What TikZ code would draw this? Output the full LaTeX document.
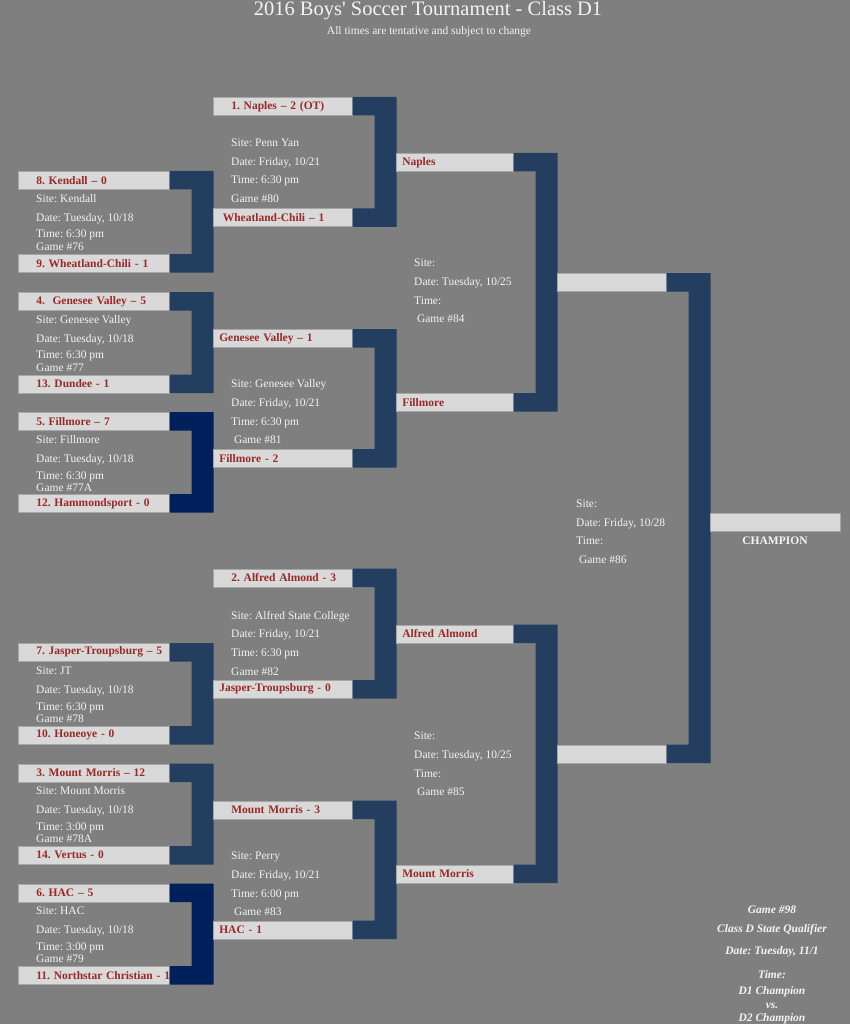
\documentclass[tikz,border=0pt]{standalone}
\usepackage{fontspec}
\setmainfont{Liberation Serif}
\usepackage{xcolor}
\definecolor{bggray}{RGB}{127,127,127}
\definecolor{boxgray}{RGB}{217,217,217}
\definecolor{teamred}{RGB}{153,40,40}
\definecolor{navyA}{RGB}{36,62,96}
\definecolor{navyB}{RGB}{0,32,91}
\definecolor{infowhite}{RGB}{244,244,244}
\newcommand{\teamfont}{\fontsize{11.5}{12.5}\selectfont\bfseries}
\newcommand{\infofont}{\fontsize{11.5}{12.5}\selectfont}
% bracket joining two boxes of one game
\newcommand{\bracket}[3][navyA]{%
  \fill[#1] (#2.north east) -- ++(44,0) |- (#3.south east) -- (#3.north east) -- ++(22,0) |- (#2.south east) -- cycle;}
\begin{document}
\frenchspacing
\begin{tikzpicture}[
    x=1pt, y=-1pt,
    team/.style={fill=boxgray, draw=gray!70, line width=0.5pt, text width=#1, minimum height=18pt,
      inner xsep=0pt, inner ysep=0pt, anchor=north west, align=left, text=teamred, font=\teamfont},
    lpad/.style={execute at begin node={\hspace*{#1}\hbox\bgroup}, execute at end node={\egroup}},
    info/.style={font=\infofont, text=infowhite, align=left, anchor=north west, inner sep=0pt},
]
\useasboundingbox (0,0) rectangle (850,1024);
\fill[bggray] (0,0) rectangle (850,1024);

% title
\node[font=\fontsize{20.5}{22}\selectfont, text=infowhite, inner sep=0pt] (title) at (428,10.5) {2016 Boys\textquotesingle{} Soccer Tournament - Class D1};
\node[font=\fontsize{11.5}{12.5}\selectfont, text=infowhite, inner sep=0pt] (subtitle) at (429,32) {All times are tentative and subject to change};

% first round
\node[team=151pt, lpad=18pt] (s8) at (18,171) {8. Kendall -- 0};
\node[team=151pt, lpad=18pt] (s9) at (18,254) {9. Wheatland-Chili - 1};
\node[info] (g76) at (36,194) {Site: Kendall\\[6.5pt]Date: Tuesday, 10/18\\[4pt]Time: 6:30 pm\\Game \#76};
\bracket{s8}{s9}

\node[team=151pt, lpad=18pt] (s4) at (18,292) {4.~ Genesee Valley -- 5};
\node[team=151pt, lpad=18pt] (s13) at (18,374.5) {13. Dundee - 1};
\node[info] (g77) at (36,315) {Site: Genesee Valley\\[6.5pt]Date: Tuesday, 10/18\\[4pt]Time: 6:30 pm\\Game \#77};
\bracket{s4}{s13}

\node[team=151pt, lpad=18pt] (s5) at (18,412) {5. Fillmore -- 7};
\node[team=151pt, lpad=18pt] (s12) at (18,494) {12. Hammondsport - 0};
\node[info] (g77a) at (36,435.5) {Site: Fillmore\\[6.5pt]Date: Tuesday, 10/18\\[4pt]Time: 6:30 pm\\Game \#77A};
\bracket[navyB]{s5}{s12}

\node[team=151pt, lpad=18pt] (s7) at (18,643) {7. Jasper-Troupsburg -- 5};
\node[team=151pt, lpad=18pt] (s10) at (18,726) {10. Honeoye - 0};
\node[info] (g78) at (36,667) {Site: JT\\[6.5pt]Date: Tuesday, 10/18\\[4pt]Time: 6:30 pm\\Game \#78};
\bracket{s7}{s10}

\node[team=151pt, lpad=18pt] (s3) at (18,763.5) {3. Mount Morris -- 12};
\node[team=151pt, lpad=18pt] (s14) at (18,846) {14. Vertus - 0};
\node[info] (g78a) at (36,787) {Site: Mount Morris\\[6.5pt]Date: Tuesday, 10/18\\[4pt]Time: 3:00 pm\\Game \#78A};
\bracket{s3}{s14}

\node[team=151pt, lpad=18pt] (s6) at (18,883.5) {6. HAC -- 5};
\node[team=151pt, lpad=18pt] (s11) at (18,966) {11. Northstar Christian - 1};
\node[info] (g79) at (36,907) {Site: HAC\\[6.5pt]Date: Tuesday, 10/18\\[4pt]Time: 3:00 pm\\Game \#79};
\bracket[navyB]{s6}{s11}

% quarterfinals
\node[team=139pt, lpad=18pt] (q1) at (213,97) {1. Naples -- 2 (OT)};
\node[team=139pt, lpad=9.5pt] (q9) at (213,208.5) {Wheatland-Chili -- 1};
\node[info] (g80) at (231,139) {Site: Penn Yan\\[6pt]Date: Friday, 10/21\\[6pt]Time: 6:30 pm\\[6pt]Game \#80};
\bracket{q1}{q9}

\node[team=139pt, lpad=6pt] (q4) at (213,329) {Genesee Valley -- 1};
\node[team=139pt, lpad=6pt] (q5) at (213,449) {Fillmore - 2};
\node[info] (g81) at (231,379) {Site: Genesee Valley\\[6.5pt]Date: Friday, 10/21\\[6.5pt]Time: 6:30 pm\\[6pt]~Game \#81};
\bracket{q4}{q5}

\node[team=139pt, lpad=18pt] (q2) at (213,568.5) {2. Alfred Almond - 3};
\node[team=139pt, lpad=6pt] (q7) at (213,680) {Jasper-Troupsburg - 0};
\node[info] (g82) at (231,611) {Site: Alfred State College\\[6pt]Date: Friday, 10/21\\[6.5pt]Time: 6:30 pm\\[6.5pt]Game \#82};
\bracket{q2}{q7}

\node[team=139pt, lpad=18pt] (q3) at (213,800.5) {Mount Morris - 3};
\node[team=139pt, lpad=6pt] (q6) at (213,920.5) {HAC - 1};
\node[info] (g83) at (231,852) {Site: Perry\\[6pt]Date: Friday, 10/21\\[6.5pt]Time: 6:00 pm\\[6pt]~Game \#83};
\bracket{q3}{q6}

% semifinals
\node[team=117pt, lpad=6pt] (sf1) at (396,153) {Naples};
\node[team=117pt, lpad=6pt] (sf5) at (396,393) {Fillmore};
\node[info] (g84) at (414,259) {Site:\\[6pt]Date: Tuesday, 10/25\\[6.5pt]Time:\\[6pt]~Game \#84};
\bracket{sf1}{sf5}

\node[team=117pt, lpad=6pt] (sf2) at (396,624.5) {Alfred Almond};
\node[team=117pt, lpad=6pt] (sf3) at (396,864.5) {Mount Morris};
\node[info] (g85) at (414,732) {Site:\\[6pt]Date: Tuesday, 10/25\\[6.5pt]Time:\\[6pt]~Game \#85};
\bracket{sf2}{sf3}

% final
\node[team=109pt, lpad=6pt] (fin1) at (557,273) {};
\node[team=109pt, lpad=6pt] (fin2) at (557,744.5) {};
\node[info] (g86) at (576,500) {Site:\\[6pt]Date: Friday, 10/28\\[6pt]Time:\\[6pt]~Game \#86};
\bracket{fin1}{fin2}

\node[team=130pt, lpad=6pt] (champ) at (710,513) {};
\node[font=\teamfont, text=infowhite, inner sep=0pt] (champlbl) at (775,541) {CHAMPION};

% state qualifier note
\node[font=\infofont\bfseries\itshape, text=infowhite, align=center, anchor=north, inner sep=0pt] (note98) at (772,906)
  {Game \#98\\[6.5pt]Class D State Qualifier\\[9.5pt]Date: Tuesday, 11/1\\[11.5pt]Time:\\[3.5pt]D1 Champion\\[1.5pt]vs.\\D2 Champion};
\end{tikzpicture}
\end{document}
